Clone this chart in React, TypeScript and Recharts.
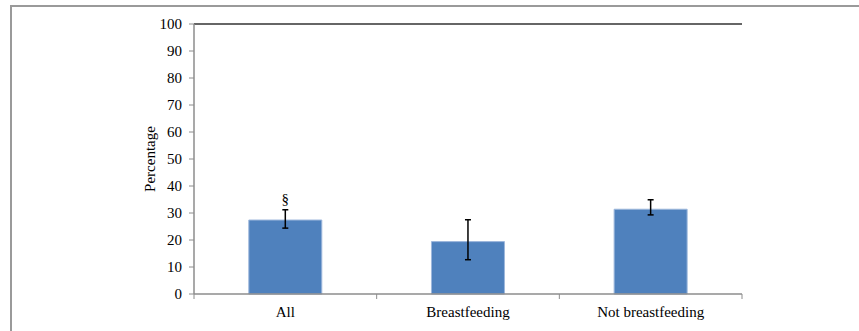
import { BarChart, Bar, XAxis, YAxis, ErrorBar, LabelList, ReferenceLine } from 'recharts'

const groups = ['All', 'Breastfeeding', 'Not breastfeeding']
const percent = [27.4, 19.4, 31.4]
const ciMinus = [3.0, 6.7, 2.1]
const ciPlus = [3.8, 8.1, 3.5]
const notes = ['§', '', '']
const yTicks = [0, 10, 20, 30, 40, 50, 60, 70, 80, 90, 100]

const data = groups.map((g, i) => ({
  group: g,
  value: percent[i],
  err: [ciMinus[i], ciPlus[i]],
  note: notes[i],
}))

const W = 859
const H = 331
const margin = { top: 24, right: 117, bottom: 0, left: 0 }
const yAxisWidth = 194
const band = (W - margin.right - yAxisWidth) / groups.length
const font = '"Liberation Serif", "Times New Roman", serif'

function CategoryTick(props: any) {
  const { x, y, payload, index } = props
  return (
    <g>
      <line x1={x - band / 2} y1={y - 8} x2={x - band / 2} y2={y - 3} stroke="#8c8c8c" />
      {index === groups.length - 1 && (
        <line x1={x + band / 2} y1={y - 8} x2={x + band / 2} y2={y - 3} stroke="#8c8c8c" />
      )}
      <text x={x} y={y + 15} textAnchor="middle" fontSize={15} fill="#000" fontFamily={font}>
        {payload.value}
      </text>
    </g>
  )
}

export default function App() {
  return (
    <div style={{ position: 'absolute', left: 0, top: 0, width: W, height: H, background: '#fff' }}>
      <div
        style={{
          position: 'absolute',
          left: 10,
          top: 5,
          width: W - 10,
          height: H - 5,
          borderTop: '2px solid #9a9a9a',
          borderLeft: '2px solid #9a9a9a',
          boxSizing: 'border-box',
        }}
      />
      <BarChart
        width={W}
        height={H}
        data={data}
        margin={margin}
        barCategoryGap="30%"
        style={{ position: 'absolute', left: 0, top: 0, fontFamily: font }}
      >
        <XAxis
          dataKey="group"
          tickLine={false}
          axisLine={{ stroke: '#8c8c8c', strokeWidth: 1.5 }}
          tick={<CategoryTick />}
          interval={0}
          height={37}
        />
        <YAxis
          domain={[0, 100]}
          ticks={yTicks}
          interval={0}
          width={yAxisWidth}
          tickSize={5}
          tickMargin={7}
          axisLine={{ stroke: '#8c8c8c', strokeWidth: 1.5 }}
          tickLine={{ stroke: '#8c8c8c' }}
          tick={{ fontSize: 15, fill: '#000', fontFamily: font }}
          label={{
            value: 'Percentage',
            angle: -90,
            position: 'insideLeft',
            dx: 145,
            style: { fontSize: 15, fill: '#000', fontFamily: font, textAnchor: 'middle' },
          }}
        />
        <YAxis
          yAxisId="frame"
          orientation="right"
          domain={[0, 100]}
          width={0}
          tick={false}
          tickLine={false}
          axisLine={{ stroke: '#7a7a7a', strokeWidth: 2 }}
        />
        <ReferenceLine y={100} stroke="#333" strokeWidth={1.5} />
        <Bar dataKey="value" fill="#4f81bd" stroke="#9db7dc" strokeWidth={1} isAnimationActive={false}>
          <ErrorBar dataKey="err" width={3} stroke="#000" strokeWidth={1.5} direction="y" />
          <LabelList
            dataKey="note"
            position="top"
            offset={16}
            style={{ fontSize: 15, fill: '#000', fontFamily: font }}
          />
        </Bar>
      </BarChart>
    </div>
  )
}
